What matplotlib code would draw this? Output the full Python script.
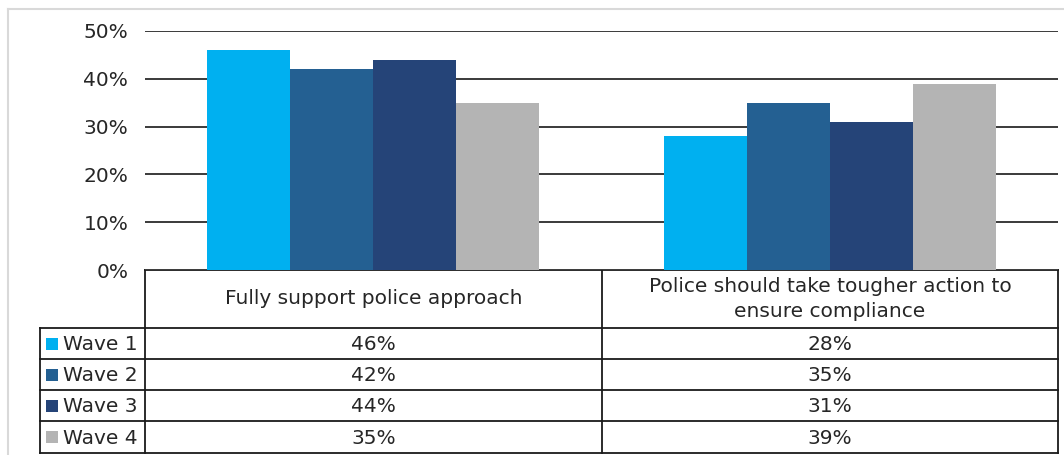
import numpy as np
import matplotlib.pyplot as plt
from matplotlib.patches import Rectangle

plt.rcParams['font.family'] = ['DejaVu Sans']

categories = ["Fully support police approach",
              "Police should take tougher action to\nensure compliance"]
waves = ["Wave 1", "Wave 2", "Wave 3", "Wave 4"]
values = [
  [46, 28],
  [42, 35],
  [44, 31],
  [35, 39],
]
colors = ["#00B0F0", "#246092", "#254478", "#B4B4B4"]
yticks = [0, 10, 20, 30, 40, 50]

# Figure layout in pixels
W, H = 1064, 455
plot_l, plot_r = 145, 1058
plot_top, plot_bot = 31, 270
legend_l = 40
col_split = 602
row_edges = [270, 328, 359, 390, 421, 453]
fs = 14.5
text_col = "#262626"

fig = plt.figure(figsize=(W / 100, H / 100), dpi=100)

ax = fig.add_axes([plot_l / W, 1 - plot_bot / H,
                   (plot_r - plot_l) / W, (plot_bot - plot_top) / H])
n = len(waves)
bar_w = 83 / 456.5
x = np.arange(len(categories))
for i, (wave, vals) in enumerate(zip(waves, values)):
  ax.bar(x + (i - (n - 1) / 2) * bar_w, vals, bar_w, color=colors[i],
         zorder=3, linewidth=0)
ax.set_xlim(-0.5, len(categories) - 0.5)
ax.set_ylim(0, 50)
ax.set_yticks(yticks)
ax.yaxis.grid(True, color="#3a3a3a", linewidth=1.4, zorder=0)
ax.set_yticklabels([f"{t}%" for t in yticks], fontsize=fs, color=text_col)
ax.tick_params(axis="y", length=0, pad=12)
ax.set_xticks([])
for s in ax.spines.values():
  s.set_visible(False)

# Data table drawn beneath the bars in pixel coordinates
tab = fig.add_axes([0, 0, 1, 1], zorder=-1)
tab.set_xlim(0, W)
tab.set_ylim(H, 0)
tab.axis("off")
tab.patch.set_alpha(0)

lk = dict(color="#1a1a1a", linewidth=1.3)
# outer chart border
tab.plot([8, 8], [9, H], color="#d9d9d9", linewidth=1.5)
tab.plot([8, W], [9, 9], color="#d9d9d9", linewidth=1.5)

# horizontal rules
tab.plot([plot_l, plot_r], [row_edges[0]] * 2, **lk)
for y in row_edges[1:]:
  tab.plot([legend_l, plot_r], [y, y], **lk)
# vertical rules
tab.plot([legend_l, legend_l], [row_edges[1], row_edges[-1]], **lk)
for xv in [plot_l, col_split, plot_r]:
  tab.plot([xv, xv], [row_edges[0], row_edges[-1]], **lk)

col_centers = [(plot_l + col_split) / 2, (col_split + plot_r) / 2]
hdr_y = (row_edges[0] + row_edges[1]) / 2
for cx, cat in zip(col_centers, categories):
  tab.text(cx, hdr_y, cat, ha="center", va="center", fontsize=fs,
           color=text_col, linespacing=1.35)

for i, wave in enumerate(waves):
  yc = (row_edges[i + 1] + row_edges[i + 2]) / 2
  tab.add_patch(Rectangle((46, yc - 6), 12, 12, color=colors[i], linewidth=0))
  tab.text(63, yc + 1, wave, ha="left", va="center", fontsize=fs, color=text_col)
  for cx, v in zip(col_centers, values[i]):
    tab.text(cx, yc + 1, f"{v}%", ha="center", va="center", fontsize=fs,
             color=text_col)

fig.savefig("out.png", dpi=100)
